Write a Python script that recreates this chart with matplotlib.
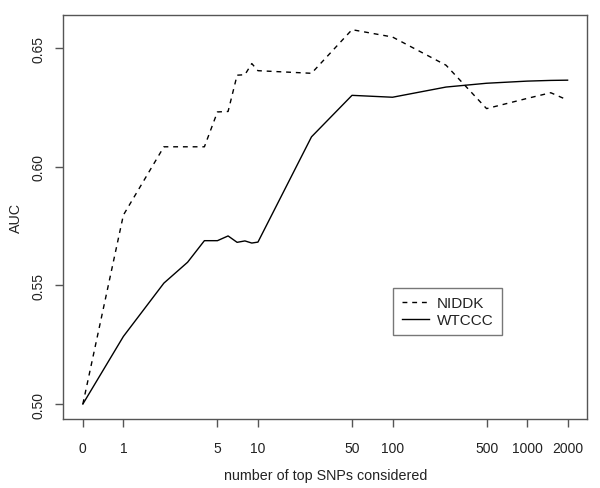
import numpy as np
import matplotlib
matplotlib.use("Agg")
import matplotlib.pyplot as plt
from matplotlib.ticker import FixedLocator, FixedFormatter, NullLocator

plt.rcParams['font.family'] = ['Liberation Sans', 'DejaVu Sans']

# number of top SNPs considered
n_snps = [0, 1, 2, 3, 4, 5, 6, 7, 8, 9, 10, 25, 50, 100, 250, 500, 1000, 1500, 2000]

niddk = [0.500, 0.5797, 0.6085, 0.6085, 0.6085, 0.6232, 0.6234, 0.6387, 0.6389,
         0.6436, 0.6406, 0.6395, 0.6579, 0.6548, 0.6429, 0.6246, 0.6289, 0.6313, 0.6282]
wtccc = [0.500, 0.5285, 0.5510, 0.5598, 0.5689, 0.5689, 0.5709, 0.5682, 0.5688,
         0.5679, 0.5683, 0.6127, 0.6302, 0.6294, 0.6337, 0.6353, 0.6362, 0.6365, 0.6366]

xtick_vals = [0, 1, 5, 10, 50, 100, 500, 1000, 2000]
xtick_labels = ["0", "1", "5", "10", "50", "100", "500", "1000", "2000"]
ytick_vals = [0.50, 0.55, 0.60, 0.65]
ytick_labels = ["0.50", "0.55", "0.60", "0.65"]

ZERO_POS = 0.5  # where the "0" category sits on the log axis


def pos(v):
    v = np.asarray(v, dtype=float)
    return np.where(v == 0, ZERO_POS, v)


fig = plt.figure(figsize=(6.0, 4.89), dpi=100)
ax = fig.add_axes([0.1058, 0.1411, 0.8725, 0.8268])

ax.plot(pos(n_snps), niddk, color='black', lw=1.0, linestyle=(0, (3.5, 3.5)), label='NIDDK')
ax.plot(pos(n_snps), wtccc, color='black', lw=1.0, linestyle='-', label='WTCCC')

ax.set_xscale('log')
lx0, lx1 = np.log10(ZERO_POS), np.log10(2000)
pad = 0.04 * (lx1 - lx0)
ax.set_xlim(10 ** (lx0 - pad), 10 ** (lx1 + pad))
ymin, ymax = min(min(niddk), min(wtccc)), max(max(niddk), max(wtccc))
ypad = 0.04 * (ymax - ymin)
ax.set_ylim(ymin - ypad, ymax + ypad)

ax.xaxis.set_major_locator(FixedLocator(list(pos(xtick_vals))))
ax.xaxis.set_major_formatter(FixedFormatter(xtick_labels))
ax.xaxis.set_minor_locator(NullLocator())
ax.set_yticks(ytick_vals)
ax.set_yticklabels(ytick_labels, rotation=90, va='center')

for s in ax.spines.values():
    s.set_color('#555555')
    s.set_linewidth(1.0)
ax.tick_params(axis='both', which='major', length=6, width=1.0, color='#555555',
               labelsize=10, labelcolor='#222222')
ax.tick_params(axis='x', pad=10)
ax.tick_params(axis='y', pad=7)

ax.set_xlabel('number of top SNPs considered', fontsize=10.3, color='#222222', labelpad=9)
ax.set_ylabel('AUC', fontsize=10.3, color='#222222', labelpad=6)

leg = ax.legend(loc='upper left', bbox_to_anchor=(0.63, 0.325), frameon=True, fancybox=False,
                fontsize=11, handlelength=1.8, handletextpad=0.5, borderpad=0.55,
                labelspacing=0.2, borderaxespad=0)
leg.get_frame().set_edgecolor('#555555')
leg.get_frame().set_linewidth(1.0)
for t in leg.get_texts():
    t.set_color('#222222')

fig.savefig('out.png', dpi=100)
